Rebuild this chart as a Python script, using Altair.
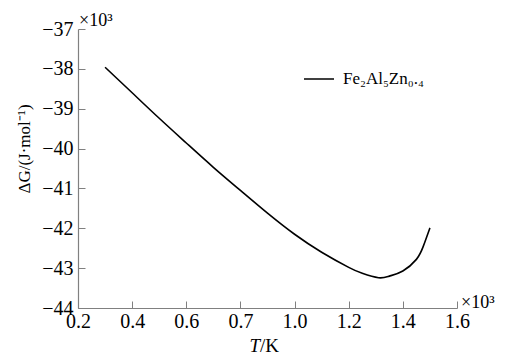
import altair as alt
import pandas as pd

# ---- data ----
T_vals = [0.30, 0.40, 0.50, 0.60, 0.70, 0.80, 0.90, 1.00, 1.10, 1.20, 1.25, 1.31, 1.35, 1.40, 1.45, 1.475, 1.50]
G_vals = [-37.96, -38.60, -39.24, -39.86, -40.47, -41.05, -41.62, -42.15, -42.60, -42.98, -43.13, -43.24, -43.20, -43.07, -42.78, -42.46, -41.99]
series_name = "Fe₂Al₅Zn₀.₄"

x_tick_values = [0.2, 0.4, 0.6, 0.8, 1.0, 1.2, 1.4, 1.6]
x_tick_labels = ["0.2", "0.4", "0.6", "0.7", "1.0", "1.2", "1.4", "1.6"]
y_tick_values = [-44, -43, -42, -41, -40, -39, -38, -37]

W, H = 379, 279
FONT = "Liberation Serif"
AX = "#808080"

df = pd.DataFrame({"T": T_vals, "G": G_vals, "series": series_name})

label_arr = "[" + ",".join("'%s'" % s for s in x_tick_labels) + "]"
x_label_expr = label_arr + "[round((datum.value - 0.2) / 0.2)]"

xscale = alt.Scale(domain=[0.2, 1.6], nice=False, zero=False)
yscale = alt.Scale(domain=[-44, -37], nice=False, zero=False)

line = alt.Chart(df).mark_line(strokeWidth=1.6, interpolate="natural").encode(
    x=alt.X("T:Q", scale=xscale,
            axis=alt.Axis(orient="bottom", values=x_tick_values, labelExpr=x_label_expr,
                          ticks=False, grid=False, domainColor=AX, domainWidth=1.2,
                          labelFont=FONT, labelFontSize=20, labelColor="black",
                          labelPadding=3, title=None, labelFlush=False)),
    y=alt.Y("G:Q", scale=yscale,
            axis=alt.Axis(orient="left", values=y_tick_values, format="d",
                          ticks=False, grid=False, domainColor=AX, domainWidth=1.2,
                          labelFont=FONT, labelFontSize=20, labelColor="black",
                          labelPadding=5, title=None, labelFlush=False)),
    color=alt.Color("series:N", scale=alt.Scale(range=["black"]),
                    legend=alt.Legend(orient="none", legendX=225, legendY=34, title=None,
                                      symbolType="stroke", symbolSize=900, symbolStrokeWidth=1.5,
                                      labelFont=FONT, labelFontSize=17, labelColor="black",
                                      labelOffset=8)),
)

ticks = alt.Chart(df).mark_point(opacity=0).encode(
    x=alt.X("T:Q", scale=xscale,
            axis=alt.Axis(orient="top", offset=-H, values=x_tick_values, labels=False,
                          domain=False, ticks=True, tickSize=7, tickColor=AX, grid=False,
                          title=None)),
    y=alt.Y("G:Q", scale=yscale,
            axis=alt.Axis(orient="right", offset=-W, values=y_tick_values, labels=False,
                          domain=False, ticks=True, tickSize=7, tickColor=AX, grid=False,
                          title=None)),
)

def txt(text, x, y, size=18, align="left", baseline="alphabetic", style="normal", angle=0):
    return alt.Chart(pd.DataFrame({"t": [text]})).mark_text(
        font=FONT, fontSize=size, align=align, baseline=baseline, fontStyle=style,
        angle=angle, color="black"
    ).encode(text="t:N", x=alt.value(x), y=alt.value(y))

annos = [
    txt("×10³", 1, -3, size=18),
    txt("×10³", 383, 279, size=18),
    txt("T", 182, 323, size=19, style="italic", align="right"),
    txt("/K", 182, 323, size=19),
    txt("ΔG/(J·mol⁻¹)", -53, 120, size=17, align="center", baseline="middle", angle=270),
]

chart = alt.layer(line, ticks, *annos).resolve_axis(x="independent", y="independent").properties(
    width=W, height=H,
    autosize=alt.AutoSizeParams(type="none"),
    padding={"left": 70, "top": 21, "right": 40, "bottom": 48},
).configure_view(stroke=None).configure_axis(
    labelFont=FONT, labelFontSize=20, labelColor="black"
)

chart.save("out.html", embed_options={"renderer": "svg", "actions": False})
